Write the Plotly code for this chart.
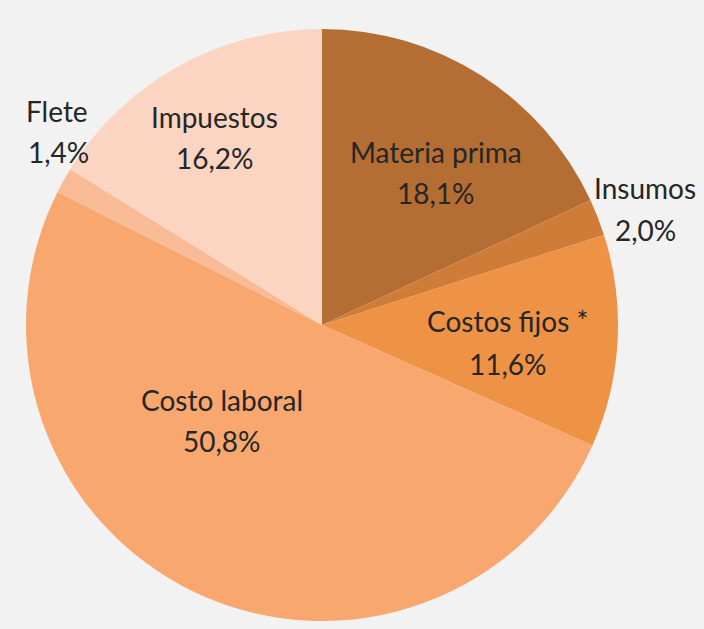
import plotly.graph_objects as go

# Data
categories = ["Materia prima", "Insumos", "Costos fijos *", "Costo laboral", "Flete", "Impuestos"]
shares = [18.1, 2.0, 11.6, 50.8, 1.4, 16.2]
colors = ["#b46d33", "#d07c39", "#ee9245", "#f8a76e", "#f9bb95", "#fbd5c2"]

W, H = 704, 629
cx, cy, r = 322, 325, 296  # pixel centre / radius of pie

fig = go.Figure(go.Pie(
    labels=categories,
    values=shares,
    sort=False,
    direction="clockwise",
    rotation=0,
    marker=dict(colors=colors, line=dict(width=0)),
    textinfo="none",
    hoverinfo="label+value",
    showlegend=False,
    domain=dict(x=[(cx - r) / W, (cx + r) / W], y=[(H - cy - r) / H, (H - cy + r) / H]),
))

# label placement (pixel centres: name line, percent line) -- layout only
label_pos = {
    "Materia prima": (436, 152, 436, 193),
    "Insumos": (645, 188, 645, 230),
    "Costos fijos *": (507, 321, 508, 364),
    "Costo laboral": (222, 400, 222, 441),
    "Flete": (57, 111, 58, 152),
    "Impuestos": (214, 117, 215, 158),
}

font = dict(family="Lato", size=28, color="#262626")
annotations = []
for name, val in zip(categories, shares):
    x1, y1, x2, y2 = label_pos[name]
    pct = f"{val:.1f}".replace(".", ",") + "%"
    for tx, px, py in ((name, x1, y1), (pct, x2, y2)):
        annotations.append(dict(
            text=tx, x=px / W, y=1 - py / H, xref="paper", yref="paper",
            xanchor="center", yanchor="middle", showarrow=False, font=font,
        ))

fig.update_layout(
    width=W, height=H,
    margin=dict(l=0, r=0, t=0, b=0),
    paper_bgcolor="#f2f2f2",
    plot_bgcolor="#f2f2f2",
    annotations=annotations,
)

fig.write_html(
    "out.html",
    config={"displayModeBar": False},
    post_script="document.body.style.margin='0';document.body.style.background='#f2f2f2';",
)
